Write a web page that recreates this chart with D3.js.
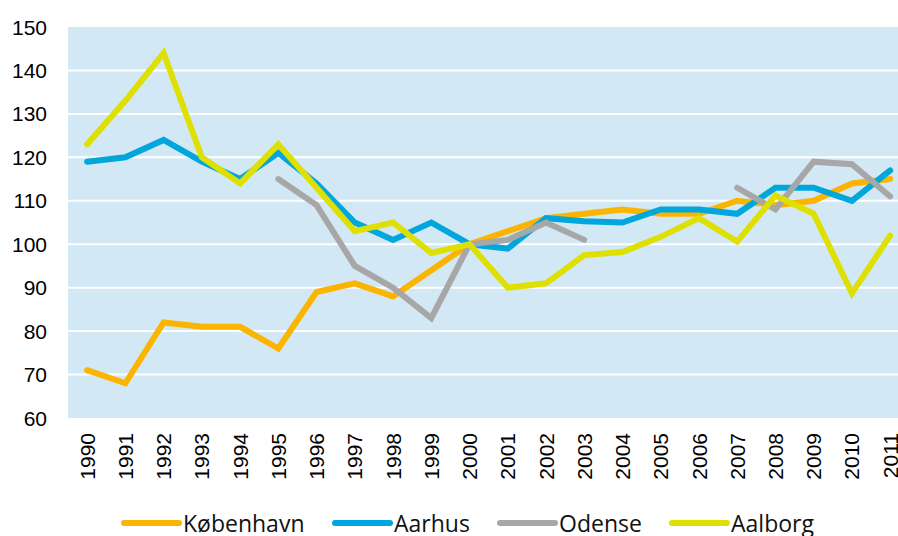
<!DOCTYPE html>
<html lang="en">
<head>
  <meta charset="UTF-8">
  <title>Indeks 2000 = 100</title>
  <style>
    body { margin: 0; background: #fff; }
    svg { display: block; }
  </style>
</head>
<body>
  <svg id="chart" width="898" height="536"></svg>

  <script src="https://d3js.org/d3.v7.min.js"></script>
  <script>
    const years = d3.range(1990, 2012).map(String);
    const yTicks = [60, 70, 80, 90, 100, 110, 120, 130, 140, 150];

    const kobenhavn = [71, 68, 82, 81, 81, 76, 89, 91, 88, 94, 100, 103, 106, 107, 108, 107, 107, 110, 109, 110, 114, 115];
    const aarhus = [119, 120, 124, 119, 115, 121, 114, 105, 101, 105, 100, 99, 106, 105.3, 105, 108, 108, 107, 113, 113, 110, 117];
    const odense = [null, null, null, null, null, 115, 109, 95, 90, 83, 100, 101, 105, 101, null, null, null, 113, 108, 119, 118.4, 111];
    const aalborg = [123, 133, 144, 120, 114, 123, 113, 103, 105, 98, 100, 90, 91, 97.5, 98.2, 101.7, 106, 100.6, 111.2, 107, 88.7, 102];

    const series = [
      { name: "København", color: "#FBB500", values: kobenhavn },
      { name: "Aarhus", color: "#00A6DC", values: aarhus },
      { name: "Odense", color: "#A7A7A7", values: odense },
      { name: "Aalborg", color: "#DDE000", values: aalborg }
    ];

    const svg = d3.select("#chart");
    const plotLeft = 68, plotTop = 27, plotBottom = 418;
    const step = 38.24;

    const x = d3.scaleBand()
      .domain(years)
      .range([plotLeft, plotLeft + step * years.length])
      .padding(0);

    const y = d3.scaleLinear()
      .domain([60, 150])
      .range([plotBottom, plotTop]);

    const cx = d => x(d) + x.bandwidth() / 2;

    // plot background
    svg.append("rect")
      .attr("x", plotLeft)
      .attr("y", plotTop)
      .attr("width", x.range()[1] - plotLeft)
      .attr("height", plotBottom - plotTop)
      .attr("fill", "#D3E8F5");

    // gridlines
    svg.append("g")
      .selectAll("line")
      .data(yTicks.filter(t => t > 60 && t < 150))
      .join("line")
      .attr("x1", plotLeft)
      .attr("x2", x.range()[1])
      .attr("y1", d => y(d))
      .attr("y2", d => y(d))
      .attr("stroke", "#fff")
      .attr("stroke-width", 2);

    // y labels
    svg.append("g")
      .selectAll("text")
      .data(yTicks)
      .join("text")
      .attr("x", 47)
      .attr("y", d => y(d))
      .attr("dy", "0.36em")
      .attr("text-anchor", "end")
      .attr("font-family", "Liberation Sans, Arial, sans-serif")
      .attr("font-size", 21)
      .attr("fill", "#000")
      .text(d => d);

    // x labels (rotated)
    svg.append("g")
      .selectAll("text")
      .data(years)
      .join("text")
      .attr("transform", d => `translate(${cx(d)},433) rotate(-90)`)
      .attr("dy", "0.36em")
      .attr("text-anchor", "end")
      .attr("font-family", "Liberation Sans, Arial, sans-serif")
      .attr("font-size", 21)
      .attr("fill", "#000")
      .text(d => d);

    const line = d3.line()
      .defined(d => d.v != null)
      .x(d => cx(d.year))
      .y(d => y(d.v));

    svg.append("g")
      .selectAll("path")
      .data(series)
      .join("path")
      .attr("d", s => line(s.values.map((v, i) => ({ year: years[i], v }))))
      .attr("fill", "none")
      .attr("stroke", s => s.color)
      .attr("stroke-width", 6)
      .attr("stroke-linejoin", "miter")
      .attr("stroke-linecap", "round");

    // legend
    const legendX = [124, 335, 500, 672];
    const legend = svg.append("g")
      .selectAll("g")
      .data(series)
      .join("g")
      .attr("transform", (d, i) => `translate(${legendX[i]},523)`);

    legend.append("line")
      .attr("x1", 0)
      .attr("x2", 55)
      .attr("stroke", d => d.color)
      .attr("stroke-width", 6)
      .attr("stroke-linecap", "round");

    legend.append("text")
      .attr("x", 59)
      .attr("y", 9)
      .attr("font-family", "Open Sans, sans-serif")
      .attr("font-size", 23)
      .attr("fill", "#111")
      .text(d => d.name);
  </script>
</body>
</html>
